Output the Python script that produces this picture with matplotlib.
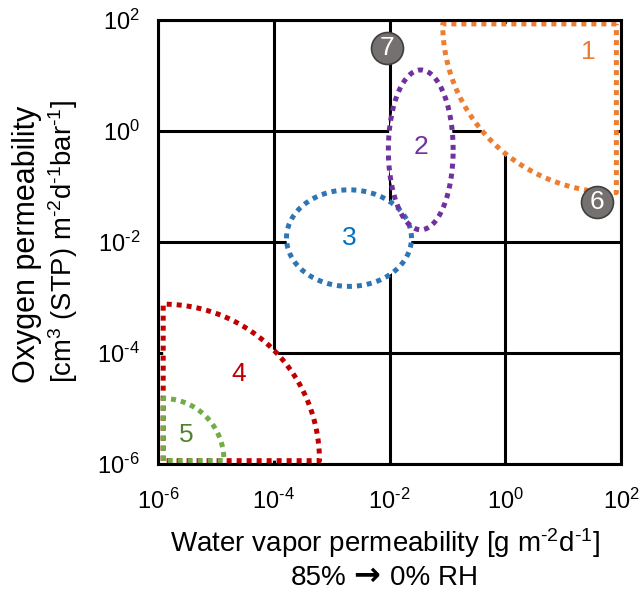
import numpy as np
import matplotlib
matplotlib.use('Agg')
import matplotlib.pyplot as plt
from matplotlib.ticker import FixedLocator, FixedFormatter, NullLocator

plt.rcParams['font.family'] = ['Liberation Sans', 'DejaVu Sans']
plt.rcParams['mathtext.fontset'] = 'custom'
plt.rcParams['mathtext.rm'] = 'Liberation Sans'
plt.rcParams['mathtext.it'] = 'Liberation Sans:italic'
plt.rcParams['mathtext.bf'] = 'Liberation Sans:bold'
plt.rcParams['mathtext.default'] = 'regular'

# ---- data (log10 units) ----
tick_exponents = [-6, -4, -2, 0, 2]
tick_labels = [r'$10^{\text{-}%d}$' % (-e) if e < 0 else r'$10^{%d}$' % e for e in tick_exponents]

# quarter-ellipse regions: id, corner centre (log x, log y), radii (log x, log y), quadrant
quarter_ids = ['1', '4', '5']
quarter_centers = [(1.92, 1.93), (-5.91, -5.94), (-5.91, -5.94)]
quarter_radii = [(3.00, 3.04), (2.70, 2.82), (1.05, 1.12)]
quarter_quadrant = ['lower-left', 'upper-right', 'upper-right']
quarter_colors = ['#ED7D31', '#C00000', '#70AD47']

# full ellipse regions
ellipse_ids = ['3', '2']
ellipse_centers = [(-2.70, -1.93), (-1.46, -0.34)]
ellipse_radii = [(1.08, 0.87), (0.56, 1.44)]
ellipse_colors = ['#2E75B6', '#7030A0']

# region labels
label_ids = ['1', '2', '3', '4', '5']
label_pos = [(1.44, 1.43), (-1.46, -0.28), (-2.70, -1.93), (-4.60, -4.37), (-5.52, -5.48)]
label_colors = ['#ED7D31', '#7030A0', '#0070C0', '#C00000', '#548235']

# single-point materials
point_ids = ['6', '7']
point_x = [1.58, -2.045]
point_y = [-1.28, 1.50]

# ---- figure ----
fig = plt.figure(figsize=(6.41, 5.92), dpi=100)
ax = fig.add_axes([158/641, 1-464/592, 463/641, 444/592])
ax.set_xscale('log')
ax.set_yscale('log')
ax.set_xlim(1e-6, 1e2)
ax.set_ylim(1e-6, 1e2)

tick_vals = [10.0**e for e in tick_exponents]
for axis in (ax.xaxis, ax.yaxis):
    axis.set_major_locator(FixedLocator(tick_vals))
    axis.set_major_formatter(FixedFormatter(tick_labels))
    axis.set_minor_locator(NullLocator())
ax.tick_params(length=0, labelsize=17)
ax.tick_params(axis='x', pad=18)
ax.tick_params(axis='y', pad=13)
ax.grid(True, color='black', lw=2.2, zorder=0)
ax.set_axisbelow(True)
for s in ax.spines.values():
    s.set_linewidth(2.2)
    s.set_zorder(5)

dot = (0, (1, 1))
lw = 3.6
outlines = []
t = np.linspace(0, 1, 80)
for cid, (cx, cy), (a, b), q, col in zip(quarter_ids, quarter_centers, quarter_radii, quarter_quadrant, quarter_colors):
    if q == 'lower-left':
        ang = np.pi + t * np.pi / 2
    else:
        ang = np.pi / 2 - t * np.pi / 2
    px = np.concatenate([[cx], cx + a * np.cos(ang), [cx]])
    py = np.concatenate([[cy], cy + b * np.sin(ang), [cy]])
    outlines.append((px, py, col))

th = np.linspace(0, 2 * np.pi, 200)
for eid, (cx, cy), (a, b), col in zip(ellipse_ids, ellipse_centers, ellipse_radii, ellipse_colors):
    outlines.append((cx + a * np.cos(th), cy + b * np.sin(th), col))

for px, py, col in outlines:
    ax.fill(10**px, 10**py, color='white', lw=0, zorder=2)
order = [0, 3, 4, 1, 2]
for i in order:
    px, py, col = outlines[i]
    ax.plot(10**px, 10**py, color=col, lw=lw, linestyle=dot, zorder=3,
            solid_capstyle='butt', dash_capstyle='butt')

for lid, (lx, ly), col in zip(label_ids, label_pos, label_colors):
    ax.text(10**lx, 10**ly, lid, color=col, fontsize=19, ha='center', va='center', zorder=4)

for pid, x, y in zip(point_ids, point_x, point_y):
    ax.plot(10**x, 10**y, 'o', ms=23, mfc='#767171', mec='#3f3f3f', mew=1.2, zorder=6, clip_on=False)
    ax.text(10**x, 10**y, pid, color='white', fontsize=19, ha='center', va='center', zorder=7)

fig.text(385/641, 1-552/592, r'Water vapor permeability [g m$^{\text{-}2}$d$^{\text{-}1}$]',
         fontsize=20, ha='center', va='baseline')
fig.text(347/641, 1-585/592, '85%', fontsize=20, ha='right', va='baseline')
fig.text(367/641, 1-585/592, '\u2192', fontsize=23, ha='center', va='baseline',
         family=['DejaVu Sans'], fontweight='bold')
fig.text(390/641, 1-585/592, '0% RH', fontsize=20, ha='left', va='baseline')
fig.text(27/641, 1-383/592, 'Oxygen permeability', fontsize=22, ha='center', va='bottom', rotation=90)
fig.text(63/641, 1-383/592, r'[cm$^{3}$ (STP) m$^{\text{-}2}$d$^{\text{-}1}$bar$^{\text{-}1}$]',
         fontsize=19.8, ha='center', va='bottom', rotation=90)

fig.savefig('out.png', dpi=100)
